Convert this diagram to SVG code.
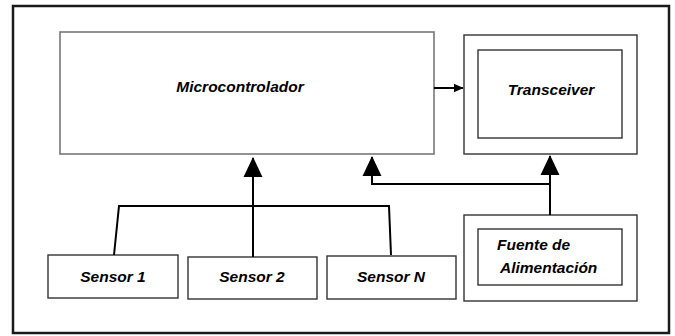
<svg xmlns="http://www.w3.org/2000/svg" width="675" height="336" viewBox="0 0 675 336">
<defs>
<style>
.frame{fill:#fff;stroke:#1a1a1a;stroke-width:2.5}
.box{fill:#fff;stroke:#333;stroke-width:1.4}
.mbox{fill:#fff;stroke:#777;stroke-width:1.6}
.lbl{font-family:"Liberation Sans",Arial,sans-serif;font-weight:bold;font-style:italic;font-size:15.5px;fill:#000}
.wire{fill:none;stroke:#000;stroke-width:2}
</style>
<marker id="big" markerUnits="userSpaceOnUse" markerWidth="20" markerHeight="20" viewBox="0 0 19 18" refX="18" refY="9" orient="auto">
<path d="M0,0 L19,9 L0,18 z" fill="#000"/>
</marker>
<marker id="small" markerUnits="userSpaceOnUse" markerWidth="10" markerHeight="10" viewBox="0 0 9 8" refX="8.5" refY="4" orient="auto">
<path d="M0,0 L9,4 L0,8 z" fill="#000"/>
</marker>
</defs>
<rect class="frame" x="13" y="6" width="656" height="327"/>
<g id="microcontrolador">
<rect class="mbox" x="60" y="32" width="374" height="122"/>
<text class="lbl" x="240" y="92" text-anchor="middle">Microcontrolador</text>
</g>
<g id="transceiver">
<rect class="box" x="464" y="35" width="173" height="119"/>
<rect class="box" x="478" y="50" width="144" height="88"/>
<text class="lbl" x="551" y="95" text-anchor="middle">Transceiver</text>
</g>
<g id="fuente">
<rect class="box" x="464" y="215" width="173" height="86"/>
<rect class="box" x="478" y="229" width="144" height="56"/>
<text class="lbl" x="497" y="250">Fuente de</text>
<text class="lbl" x="500" y="273">Alimentación</text>
</g>
<g id="sensor1">
<rect class="box" x="48" y="255" width="130" height="43"/>
<text class="lbl" x="113" y="282" text-anchor="middle">Sensor 1</text>
</g>
<g id="sensor2">
<rect class="box" x="188" y="257" width="129" height="42"/>
<text class="lbl" x="252" y="282" text-anchor="middle">Sensor 2</text>
</g>
<g id="sensorN">
<rect class="box" x="327" y="256" width="129" height="43"/>
<text class="lbl" x="391" y="282" text-anchor="middle">Sensor N</text>
</g>
<g id="connectors">
<polyline class="wire" points="114,255 119,206 389,206 391,255"/>
<line class="wire" x1="253" y1="257" x2="253" y2="158" marker-end="url(#big)"/>
<line class="wire" x1="550" y1="215" x2="550" y2="156" marker-end="url(#big)"/>
<polyline class="wire" points="550,184 372,184 372,157" marker-end="url(#big)"/>
<line class="wire" x1="434" y1="88" x2="463" y2="88" marker-end="url(#small)"/>
</g>
</svg>
